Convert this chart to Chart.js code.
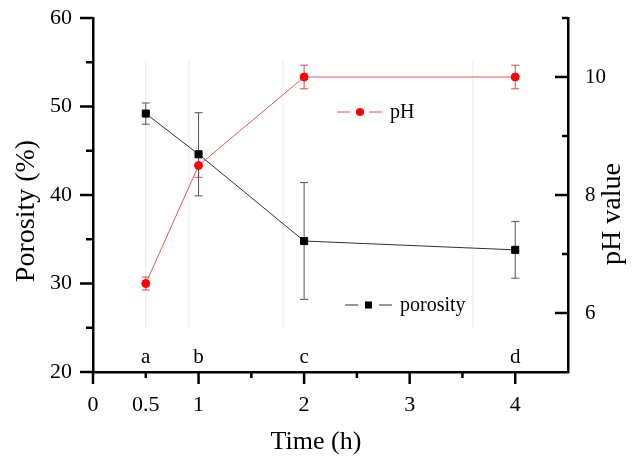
<!DOCTYPE html>
<html>
<head>
<meta charset="utf-8">
<script src="https://cdn.jsdelivr.net/npm/chart.js@4/dist/chart.umd.min.js"></script>
<style>
  html, body { margin: 0; padding: 0; background: #fff; }
  #wrap { width: 643px; height: 456px; }
</style>
</head>
<body>
<div id="wrap"><canvas id="myChart" width="643" height="456"></canvas></div>
<script>
  // ***************** Data *****************
  const times = [0.5, 1, 2, 4];
  const sampleLetters = ["a", "b", "c", "d"];
  const porosity = [49.2, 44.6, 34.8, 33.8];
  const porosityErr = [1.2, 4.7, 6.6, 3.2];
  const phValues = [6.5, 8.5, 10.0, 10.0];
  const phErr = [0.11, 0.2, 0.2, 0.2];
  const xTickLabels = [0, 0.5, 1, 2, 3, 4];
  const leftTickLabels = [20, 30, 40, 50, 60];
  const rightTickLabels = [6, 8, 10];
  // faint panel separators from the original figure
  const separators = [0.5, 0.91, 1.8, 3.6];

  const FONT = "'Liberation Serif', 'DejaVu Serif', serif";
  const RED = "#ff0000";
  const RED_LINE = "#e25a5a";

  function line(ctx, x1, y1, x2, y2) {
    ctx.beginPath();
    ctx.moveTo(x1, y1);
    ctx.lineTo(x2, y2);
    ctx.stroke();
  }

  function errorBars(ctx, xs, ys, vals, errs, color) {
    ctx.save();
    ctx.strokeStyle = color;
    ctx.lineWidth = 1;
    vals.forEach((v, i) => {
      const x = xs.getPixelForValue(times[i]);
      const yt = ys.getPixelForValue(v + errs[i]);
      const yb = ys.getPixelForValue(v - errs[i]);
      line(ctx, x, yt, x, yb);
      line(ctx, x - 4, yt, x + 4, yt);
      line(ctx, x - 4, yb, x + 4, yb);
    });
    ctx.restore();
  }

  const extras = {
    id: "extras",
    beforeDatasetsDraw(chart) {
      const { ctx, scales } = chart;
      const xs = scales.x, yl = scales.y, yr = scales.y1;
      ctx.save();
      ctx.strokeStyle = "#ebebeb";
      ctx.lineWidth = 1;
      separators.forEach((s) => {
        const x = xs.getPixelForValue(s);
        line(ctx, x, yl.getPixelForValue(55.2), x, yl.getPixelForValue(25));
      });
      ctx.restore();
      errorBars(ctx, xs, yr, phValues, phErr, "#e04848");
      errorBars(ctx, xs, yl, porosity, porosityErr, "#555");
    },
    afterDraw(chart) {
      const { ctx, chartArea: a, scales } = chart;
      const xs = scales.x, yl = scales.y, yr = scales.y1;
      ctx.save();
      ctx.strokeStyle = "#000";
      ctx.lineWidth = 2.5;
      // left ticks (outward)
      for (let v = 20; v <= 60; v += 5) {
        const y = yl.getPixelForValue(v);
        line(ctx, a.left - (v % 10 === 0 ? 13 : 7), y, a.left, y);
      }
      // bottom ticks (outward)
      for (let v = 0; v <= 4; v += 0.5) {
        const x = xs.getPixelForValue(v);
        line(ctx, x, a.bottom, x, a.bottom + (v % 1 === 0 ? 12 : 6));
      }
      // right ticks (inward)
      for (let v = 6; v <= 11; v += 1) {
        const y = yr.getPixelForValue(v);
        line(ctx, a.right - (v % 2 === 0 ? 13 : 6), y, a.right, y);
      }

      // sample letters
      ctx.fillStyle = "#000";
      ctx.font = "21px " + FONT;
      ctx.textAlign = "center";
      ctx.textBaseline = "alphabetic";
      sampleLetters.forEach((s, i) => {
        ctx.fillText(s, xs.getPixelForValue(times[i]), a.bottom - 9);
      });

      // legends inside the plot
      ctx.font = "20px " + FONT;
      ctx.textAlign = "left";
      ctx.textBaseline = "middle";
      ctx.lineWidth = 1;
      let ly = 112;
      ctx.strokeStyle = RED_LINE;
      line(ctx, 337, ly, 350, ly);
      line(ctx, 369, ly, 382, ly);
      ctx.fillStyle = RED;
      ctx.beginPath();
      ctx.arc(360, ly, 4, 0, Math.PI * 2);
      ctx.fill();
      ctx.fillStyle = "#000";
      ctx.fillText("pH", 390, ly + 1);

      ly = 305;
      ctx.strokeStyle = "#333";
      line(ctx, 345, ly, 358, ly);
      line(ctx, 379, ly, 392, ly);
      ctx.fillRect(365, ly - 3.5, 7, 7);
      ctx.fillText("porosity", 400, ly + 1);

      // axis titles
      ctx.font = "26px " + FONT;
      ctx.textAlign = "center";
      ctx.fillText("Time (h)", 316, 442);
      ctx.font = "28px " + FONT;
      ctx.save();
      ctx.translate(27, 211);
      ctx.rotate(-Math.PI / 2);
      ctx.fillText("Porosity (%)", 0, 0);
      ctx.restore();
      ctx.save();
      ctx.translate(613, 214);
      ctx.rotate(-Math.PI / 2);
      ctx.fillText("pH value", 0, 0);
      ctx.restore();
      ctx.restore();
    },
  };

  const tickFont = { family: FONT, size: 22 };
  const plain = (v) => String(v);
  const fitY = (w) => (s) => { s.width = w; s.paddingTop = 0; s.paddingBottom = 0; };

  const data = {
    datasets: [
      {
        label: "pH",
        data: times.map((t, i) => ({ x: t, y: phValues[i] })),
        yAxisID: "y1",
        borderColor: RED_LINE,
        backgroundColor: RED,
        pointBackgroundColor: RED,
        pointBorderColor: RED,
        borderWidth: 1,
        pointRadius: 4,
        pointStyle: "circle",
      },
      {
        label: "porosity",
        data: times.map((t, i) => ({ x: t, y: porosity[i] })),
        yAxisID: "y",
        borderColor: "#333",
        backgroundColor: "#000",
        pointBackgroundColor: "#000",
        pointBorderColor: "#000",
        borderWidth: 1,
        pointRadius: 5,
        pointStyle: "rect",
      },
    ],
  };

  const config = {
    type: "line",
    data: data,
    plugins: [extras],
    options: {
      responsive: false,
      animation: false,
      layout: { padding: { top: 18, left: 0, right: 0, bottom: 0 } },
      plugins: {
        legend: { display: false },
        tooltip: { enabled: false },
      },
      scales: {
        x: {
          type: "linear",
          min: 0,
          max: 4.5,
          afterFit: (s) => { s.height = 84; s.paddingLeft = 0; s.paddingRight = 0; },
          afterBuildTicks: (s) => { s.ticks = xTickLabels.map((v) => ({ value: v })); },
          grid: { display: false, drawTicks: false },
          border: { display: true, color: "#000", width: 2.5 },
          ticks: { font: tickFont, color: "#000", padding: 20, maxRotation: 0, autoSkip: false, callback: plain },
        },
        y: {
          position: "left",
          min: 20,
          max: 60,
          afterFit: fitY(93),
          afterBuildTicks: (s) => { s.ticks = leftTickLabels.map((v) => ({ value: v })); },
          grid: { display: false, drawTicks: false },
          border: { display: true, color: "#000", width: 2.5 },
          ticks: { font: tickFont, color: "#000", padding: 21, callback: plain },
        },
        y1: {
          position: "right",
          min: 5,
          max: 11,
          afterFit: fitY(75),
          afterBuildTicks: (s) => { s.ticks = rightTickLabels.map((v) => ({ value: v })); },
          grid: { display: false, drawTicks: false },
          border: { display: true, color: "#000", width: 2.5 },
          ticks: { font: { family: FONT, size: 21 }, color: "#000", padding: 17, callback: plain },
        },
      },
    },
  };

  const myChart = new Chart(document.getElementById("myChart"), config);
</script>
</body>
</html>
